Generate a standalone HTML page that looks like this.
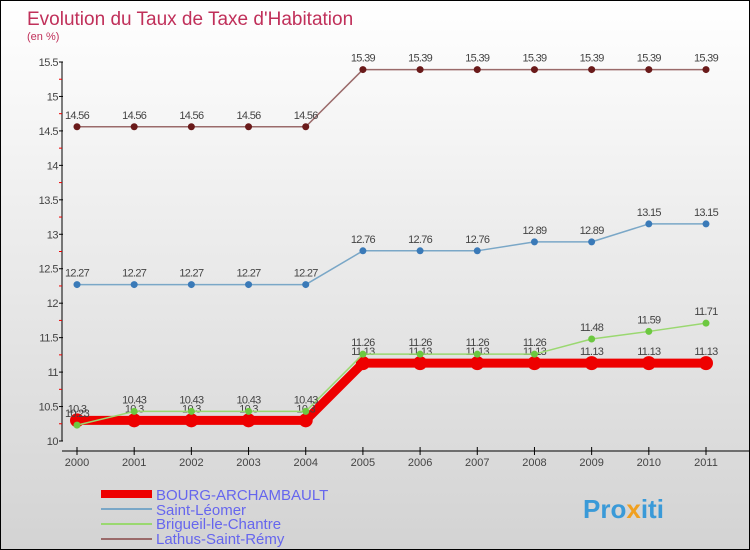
<!DOCTYPE html>
<html><head><meta charset="utf-8"><style>
body{margin:0}
#c{width:750px;height:550px;position:relative;box-sizing:border-box;border:1px solid #000;background:linear-gradient(#ffffff,#d3d3d3);font-family:"Liberation Sans",sans-serif;overflow:hidden}
</style></head><body>
<div id="c">
<svg id="s" width="750" height="550" style="position:absolute;left:0;top:0">
<text x="26" y="24" font-size="19" fill="#c0305a">Evolution du Taux de Taxe d'Habitation</text>
<text x="26" y="39" font-size="11" fill="#c0305a">(en %)</text>
<g id="ax"></g><g id="marks"></g>
<g>
<rect x="100" y="489" width="51" height="8" fill="#e00"/>
<text x="155" y="499" font-size="15" fill="#6666ee">BOURG-ARCHAMBAULT</text>
<rect x="100" y="507" width="51" height="2" fill="#7aa7c7"/>
<text x="155" y="514" font-size="15" fill="#6666ee">Saint-Léomer</text>
<rect x="100" y="522" width="51" height="2" fill="#9ad870"/>
<text x="155" y="528" font-size="15" fill="#6666ee">Brigueil-le-Chantre</text>
<rect x="100" y="537" width="51" height="2" fill="#9a6a6a"/>
<text x="155" y="543" font-size="15" fill="#6666ee">Lathus-Saint-Rémy</text>
</g>
<text x="582" y="517" font-size="26" font-weight="bold" fill="#3a9ad8">Pro<tspan fill="#f0a020">x</tspan>iti</text>
</svg>
</div>
<script>
const years=[2000,2001,2002,2003,2004,2005,2006,2007,2008,2009,2010,2011];
const bourg=[10.3,10.3,10.3,10.3,10.3,11.13,11.13,11.13,11.13,11.13,11.13,11.13];
const leomer=[12.27,12.27,12.27,12.27,12.27,12.76,12.76,12.76,12.89,12.89,13.15,13.15];
const brigueil=[10.23,10.43,10.43,10.43,10.43,11.26,11.26,11.26,11.26,11.48,11.59,11.71];
const lathus=[14.56,14.56,14.56,14.56,14.56,15.39,15.39,15.39,15.39,15.39,15.39,15.39];
const yTicks=[10,10.5,11,11.5,12,12.5,13,13.5,14,14.5,15,15.5];
const NS="http://www.w3.org/2000/svg";
const X=i=>76+i*(705-76)/11;
const Y=v=>440-(v-10)*(440-61)/5.5;
function mk(t,a,p){const e=document.createElementNS(NS,t);for(const k in a)e.setAttribute(k,a[k]);p.appendChild(e);return e;}
const ax=document.getElementById('ax'),mg=document.getElementById('marks');
let e=mk('line',{x1:61,y1:61,x2:61,y2:440,stroke:'#000'},ax);


e=mk('line',{x1:61,y1:450,x2:750,y2:450,stroke:'#000'},ax);


yTicks.forEach((v,i)=>{const y=Y(v);
 mk('line',{x1:58,y1:y,x2:62,y2:y,stroke:'#000'},ax);
 if(i<yTicks.length-1)mk('line',{x1:58,y1:Y(v+0.25),x2:61,y2:Y(v+0.25),stroke:'#e00'},ax);
 const t=mk('text',{x:57,y:y+4,'font-size':11,fill:'#444','text-anchor':'end','letter-spacing':'-0.5'},ax);t.textContent=v;
 
 });
years.forEach((yr,i)=>{const x=X(i);
 mk('line',{x1:x,y1:446,x2:x,y2:454,stroke:'#000'},ax);
 const t=mk('text',{x:x,y:465,'font-size':11,fill:'#444','text-anchor':'middle'},ax);t.textContent=yr;
 
 });
function series(d,col,dot,w,r,name){
 const g=mk('g',{},mg);
 
 
 mk('polyline',{points:d.map((v,i)=>X(i)+','+Y(v)).join(' '),fill:'none',stroke:col,'stroke-width':w,'stroke-linejoin':'round'},g);
 d.forEach((v,i)=>{mk('circle',{cx:X(i),cy:Y(v),r:r,fill:dot},g);
  const t=mk('text',{x:X(i),y:Y(v)-8,'font-size':11,fill:'#444','text-anchor':'middle','letter-spacing':'-0.7'},g);t.textContent=v;});
}
series(lathus,'#9a6a6a','#6a1a1a',1.5,3.5,'series-lathus');
series(leomer,'#7aa7c7','#3a7ab8',1.5,3.5,'series-saint-leomer');
series(bourg,'#e00','#e00',9,7,'series-bourg');
series(brigueil,'#9ad870','#6cc840',1.5,3.5,'series-brigueil');
</script>
</body></html>
